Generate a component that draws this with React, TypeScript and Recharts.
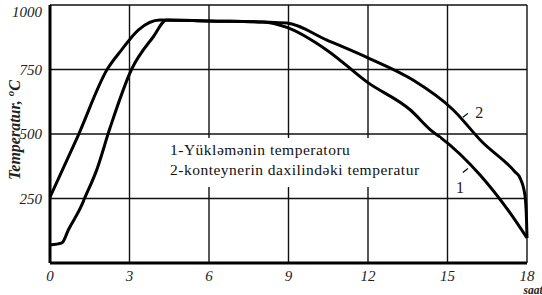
import { LineChart, Line, XAxis, YAxis, CartesianGrid, Legend, ReferenceDot, ReferenceLine, Customized } from "recharts";

// series 1: Yükləmənin temperaturu (load)
const hours1 = [0, 0.45, 0.7, 1.2, 1.29, 1.76, 2.26, 3.08, 3.9, 4.4, 6, 8.04, 8.94, 10.45, 11.97, 13.6, 14.45, 14.72, 16.23, 17.36, 18];
const temps1 = [70, 78, 130, 225, 247, 360, 522, 751, 877, 942, 938, 934, 913, 825, 701, 593, 508, 488, 341, 194, 97];

// series 2: konteynerin daxilindəki temperatur
const hours2 = [0, 1.07, 2.16, 2.7, 3.33, 4.15, 6, 8.04, 8.94, 10.45, 12.0, 13.7, 15.2, 16.3, 17.55, 17.74, 17.92, 17.98, 18];
const temps2 = [255, 496, 751, 826, 903, 942, 938, 934, 930, 864, 795, 709, 595, 470, 353, 329, 264, 174, 97];

const seriesNames = ["1-Yükləmənin temperatoru", "2-konteynerin daxilindəki temperatur"];
const xTicks = [0, 3, 6, 9, 12, 15, 18];
const yTicks = [250, 500, 750, 1000];
const yTitle = "Temperatur, ";
const xTitle = "saat";

const data1 = hours1.map((h, i) => ({ h, t: temps1[i] }));
const data2 = hours2.map((h, i) => ({ h, t: temps2[i] }));

const serif = '"Times New Roman", "Liberation Serif", "DejaVu Serif", "Noto Serif", serif';

const YTick = (props: any) => {
  const { x, y, payload } = props;
  return (
    <text x={x} y={Math.max(y, 12)} dy={5} textAnchor="end" style={{ fontFamily: serif }} fontStyle="italic" fontSize={15} fill="#222">
      {payload.value}
    </text>
  );
};

const XTick = (props: any) => {
  const { x, y, payload } = props;
  return (
    <text x={x} y={y} dy={16} textAnchor="middle" style={{ fontFamily: serif }} fontStyle="italic" fontSize={15} fill="#222">
      {payload.value}
    </text>
  );
};

const LegendBox = (props: any) => (
  <div style={{ fontFamily: serif, fontSize: 15.5, letterSpacing: 0.5, color: "#111", lineHeight: "20px", paddingLeft: 20, paddingTop: 2 }}>
    {(props.payload || []).map((p: any) => (
      <div key={p.value} style={{ whiteSpace: "nowrap" }}>{p.value}</div>
    ))}
  </div>
);

export default function App() {
  return (
    <div style={{ background: "#fff" }}>
      <style>{`body{margin:0;background:#fff}`}</style>
      <LineChart width={542} height={295} margin={{ top: 5, right: 15, bottom: 0, left: 8 }}>
        <CartesianGrid stroke="#111" strokeWidth={1.4} />
        <XAxis
          dataKey="h"
          type="number"
          domain={[0, 18]}
          ticks={xTicks}
          height={32}
          tickLine={false}
          tickSize={0}
          axisLine={{ stroke: "#000", strokeWidth: 3 }}
          tick={<XTick />}
          allowDuplicatedCategory={false}
        />
        <YAxis
          type="number"
          domain={[0, 1000]}
          ticks={yTicks}
          width={42}
          tickLine={false}
          axisLine={{ stroke: "#000", strokeWidth: 3 }}
          tick={<YTick />}
        />
        <Legend
          verticalAlign="middle"
          align="center"
          layout="horizontal"
          content={<LegendBox />}
          wrapperStyle={{ position: "absolute", left: 150, top: 138, width: 290, height: 49, background: "#fff" }}
        />
        <Line data={data1} dataKey="t" name={seriesNames[0]} type="monotone" stroke="#000" strokeWidth={3} dot={false} isAnimationActive={false} />
        <Line data={data2} dataKey="t" name={seriesNames[1]} type="monotone" stroke="#000" strokeWidth={3} dot={false} isAnimationActive={false} />
        <ReferenceLine segment={[{ x: 15.58, y: 565 }, { x: 15.77, y: 580 }]} stroke="#000" strokeWidth={1.2} />
        <ReferenceLine segment={[{ x: 15.58, y: 351 }, { x: 15.77, y: 366 }]} stroke="#000" strokeWidth={1.2} />
        <ReferenceDot x={16.2} y={583} r={0} label={{ value: "2", fontSize: 16, fill: "#222", position: "center", style: { fontFamily: serif } }} />
        <ReferenceDot x={15.47} y={293} r={0} label={{ value: "1", fontSize: 16, fill: "#222", position: "center", style: { fontFamily: serif } }} />
        <Customized
          component={() => (
            <g style={{ fontFamily: serif }} fontStyle="italic" fontWeight="bold" fill="#222">
              <text transform="translate(20,130) rotate(-90)" textAnchor="middle" fontSize={16}>
                {yTitle}
                <tspan fontSize={11} dy={-6}>o</tspan>
                <tspan dy={6}>C</tspan>
              </text>
              <text x={533} y={294} textAnchor="middle" fontSize={11.5}>{xTitle}</text>
            </g>
          )}
        />
      </LineChart>
    </div>
  );
}
